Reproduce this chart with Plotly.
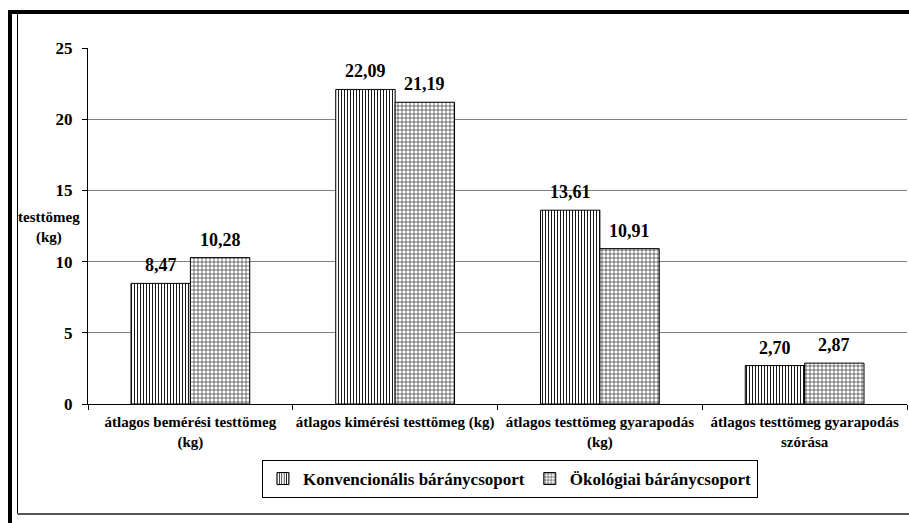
import plotly.graph_objects as go

categories = [
    "átlagos bemérési testtömeg<br>(kg)",
    "átlagos kimérési testtömeg (kg)",
    "átlagos testtömeg gyarapodás<br>(kg)",
    "átlagos testtömeg gyarapodás<br>szórása",
]
konvencionalis = [8.47, 22.09, 13.61, 2.70]
okologiai = [10.28, 21.19, 10.91, 2.87]
series_names = ["Konvencionális báránycsoport", "Ökológiai báránycsoport"]
y_ticks = [0, 5, 10, 15, 20, 25]

W, H = 909, 523
FONT = "'Liberation Serif', 'Times New Roman', 'DejaVu Serif', serif"
BARGAP = 0.42

def fmt(v):
    return f"{v:.2f}".replace(".", ",")

fig = go.Figure()
fig.add_trace(go.Bar(
    x=categories, y=konvencionalis, name=f"<b>{series_names[0]}</b>",
    marker=dict(color="white", line=dict(color="black", width=1),
                pattern=dict(shape="|", size=3, solidity=0.3, fgcolor="black", bgcolor="white")),
))
fig.add_trace(go.Bar(
    x=categories, y=okologiai, name=f"<b>{series_names[1]}</b>",
    marker=dict(color="white", line=dict(color="black", width=1),
                pattern=dict(shape="+", size=4, solidity=0.25, fgcolor="black", bgcolor="white")),
))

x0, x1 = 88 / W, 907 / W
y0, y1 = (H - 404) / H, (H - 48) / H

# data labels above each bar (bar centre offset = half a bar width, in category units)
half = (1 - BARGAP) / 4
for i, cat in enumerate(categories):
    for vals, sign in ((konvencionalis, -1), (okologiai, 1)):
        fig.add_annotation(x=i + sign * half, y=vals[i], xref="x", yref="y",
                           text=f"<b>{fmt(vals[i])}</b>", showarrow=False,
                           yanchor="bottom", yshift=6,
                           font=dict(family=FONT, size=18, color="black"))

fig.update_layout(
    template="none",
    width=W, height=H,
    margin=dict(l=0, r=0, t=0, b=0),
    paper_bgcolor="white", plot_bgcolor="white",
    font=dict(family=FONT, size=14, color="black"),
    barmode="group", bargap=BARGAP, bargroupgap=0,
    xaxis=dict(domain=[x0, x1], showline=True, linecolor="black", linewidth=1,
               ticks="outside", tickson="boundaries", ticklen=5, tickcolor="black",
               tickvals=categories, ticktext=[f"<b>{c}</b>" for c in categories],
               ticklabelstandoff=4, tickangle=0,
               tickfont=dict(family=FONT, size=15), showgrid=False, automargin=False),
    yaxis=dict(domain=[y0, y1], range=[0, 25], tickvals=y_ticks,
               ticktext=[f"<b>{v}</b>" for v in y_ticks],
               showline=True, linecolor="black", linewidth=1,
               ticks="outside", ticklen=5, tickcolor="black",
               ticklabelstandoff=6,
               tickfont=dict(family=FONT, size=17),
               showgrid=True, gridcolor="#808080", gridwidth=1,
               zeroline=False, automargin=False),
    legend=dict(orientation="h", x=0.561, xanchor="center", y=(H - 479) / H, yanchor="middle",
                bordercolor="black", borderwidth=1, bgcolor="white", itemwidth=30,
                font=dict(family=FONT, size=17), tracegroupgap=0),
    showlegend=True,
)

fig.add_annotation(text="<b>testtömeg<br>(kg)</b>", x=49 / W, y=(H - 227) / H,
                   xref="paper", yref="paper", showarrow=False, xanchor="center", yanchor="middle",
                   font=dict(family=FONT, size=15), align="center")

# frame
fig.add_shape(type="line", xref="paper", yref="paper", x0=8 / W, x1=1, y0=(H - 12) / H, y1=(H - 12) / H,
              line=dict(color="black", width=4))
fig.add_shape(type="line", xref="paper", yref="paper", x0=10 / W, x1=10 / W, y0=0, y1=(H - 10) / H,
              line=dict(color="black", width=4))
fig.add_shape(type="line", xref="paper", yref="paper", x0=17.5 / W, x1=17.5 / W, y0=(H - 513.5) / H, y1=(H - 13) / H,
              line=dict(color="black", width=1))
fig.add_shape(type="line", xref="paper", yref="paper", x0=17.5 / W, x1=1, y0=(H - 514) / H, y1=(H - 514) / H,
              line=dict(color="#555555", width=2))

fig.write_html("out.html", config={"displayModeBar": False},
               post_script="document.body.style.margin='0';document.body.style.overflow='hidden';")
